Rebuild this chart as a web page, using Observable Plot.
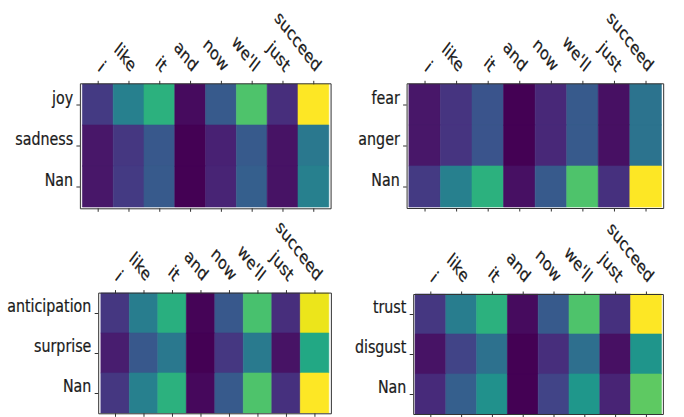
<!DOCTYPE html>
<html><head><meta charset="utf-8">
<script src="https://cdn.jsdelivr.net/npm/d3@7"></script>
<script src="https://cdn.jsdelivr.net/npm/@observablehq/plot@0.6"></script>
<style>
html,body{margin:0;padding:0;background:#fff;}
#fig{position:relative;width:684px;height:417px;overflow:hidden;background:#fff;}
#fig svg{position:absolute;left:0;top:0;}
</style></head><body><div id="fig"></div>
<script>
// tokens (columns)
const words = ["i", "like", "it", "and", "now", "we'll", "just", "succeed"];

// panel 1
const rows1 = ["joy", "sadness", "Nan"];
const joy     = [0.17, 0.43, 0.64, 0.03, 0.28, 0.72, 0.13, 1.00];
const sadness = [0.06, 0.16, 0.27, 0.00, 0.09, 0.28, 0.05, 0.40];
const nan1    = [0.06, 0.17, 0.28, 0.00, 0.10, 0.30, 0.05, 0.43];

// panel 2
const rows2 = ["fear", "anger", "Nan"];
const fear  = [0.06, 0.15, 0.26, 0.00, 0.11, 0.28, 0.04, 0.38];
const anger = [0.06, 0.15, 0.26, 0.00, 0.11, 0.28, 0.04, 0.38];
const nan2  = [0.17, 0.43, 0.64, 0.04, 0.28, 0.72, 0.14, 1.00];

// panel 3
const rows3 = ["anticipation", "surprise", "Nan"];
const anticipation = [0.16, 0.42, 0.63, 0.01, 0.27, 0.71, 0.13, 0.97];
const surprise     = [0.08, 0.27, 0.40, 0.00, 0.16, 0.41, 0.05, 0.60];
const nan3         = [0.16, 0.43, 0.64, 0.02, 0.28, 0.72, 0.14, 1.00];

// panel 4
const rows4 = ["trust", "disgust", "Nan"];
const trust   = [0.16, 0.42, 0.64, 0.03, 0.28, 0.72, 0.14, 1.00];
const disgust = [0.05, 0.20, 0.37, 0.00, 0.13, 0.36, 0.04, 0.52];
const nan4    = [0.12, 0.30, 0.50, 0.00, 0.20, 0.53, 0.10, 0.75];

// layout (real pixels): frame boxes [x0, y0, x1, y1]
const W = 684, H = 417, SX = 0.77, VW = W / SX;
const panels = [
  {rows: rows1, series: [joy, sadness, nan1], box: [80, 83.3, 330.7, 208.3]},
  {rows: rows2, series: [fear, anger, nan2], box: [406.7, 83.3, 663.3, 208]},
  {rows: rows3, series: [anticipation, surprise, nan3], box: [98.3, 292.6, 331, 413.3]},
  {rows: rows4, series: [trust, disgust, nan4], box: [413.3, 294, 663, 414]}
];

const fig = document.getElementById("fig");
for (const p of panels) {
  const data = p.rows.flatMap((r, i) => words.map((w, j) => ({word: w, row: r, value: p.series[i][j]})));
  const [x0, y0, x1, y1] = p.box;
  const chart = Plot.plot({
    width: VW, height: H,
    marginLeft: x0 / SX, marginRight: (W - x1) / SX, marginTop: y0, marginBottom: H - y1,
    style: {fontFamily: "DejaVu Sans", fontSize: "18px", background: "transparent", color: "#000", overflow: "visible"},
    x: {type: "band", domain: words, padding: 0, axis: null},
    y: {type: "band", domain: p.rows, padding: 0, axis: null},
    color: {type: "linear", scheme: "viridis", domain: [0, 1]},
    marks: [
      Plot.cell(data, {x: "word", y: "row", fill: "value", stroke: "value", strokeWidth: 0.6}),
      Plot.frame({stroke: "#333", strokeWidth: 1}),
      Plot.axisX({anchor: "top", tickSize: 3.5, tickFormat: () => "", label: null, stroke: "#333"}),
      Plot.axisX({anchor: "bottom", tickSize: 3.5, tickFormat: () => "", label: null, stroke: "#333"}),
      Plot.axisY({anchor: "left", tickSize: 3.6 / SX, tickFormat: () => "", label: null, stroke: "#333"}),
      Plot.text(words, {x: d => d, frameAnchor: "top", rotate: 45, textAnchor: "end", lineAnchor: "bottom",
        dx: 2, dy: -11, fontSize: 18.5, fill: "#1a1a1a", stroke: "#1a1a1a", strokeWidth: 0.25}),
      Plot.text(p.rows, {y: d => d, frameAnchor: "left", textAnchor: "end", lineAnchor: "bottom",
        dx: -9.5, dy: -1.5, fontSize: 18.5, fill: "#1a1a1a", stroke: "#1a1a1a", strokeWidth: 0.25})
    ]
  });
  chart.setAttribute("preserveAspectRatio", "none");
  chart.style.width = W + "px";
  chart.style.height = H + "px";
  chart.style.maxWidth = "none";
  chart.querySelectorAll("line, rect, path").forEach(el => el.setAttribute("vector-effect", "non-scaling-stroke"));
  fig.appendChild(chart);
}
</script></body></html>
